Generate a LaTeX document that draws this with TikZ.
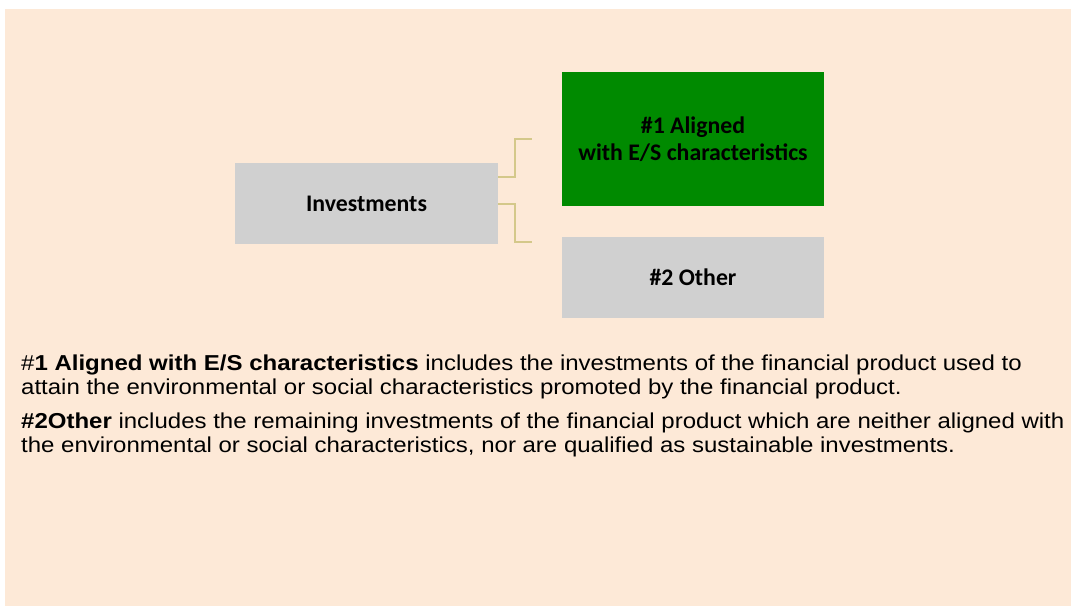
\documentclass[tikz,border=0pt]{standalone}
\usepackage{fontspec}
\setmainfont{Liberation Sans}
\newfontfamily\boxfont{Carlito}
\definecolor{peach}{HTML}{FDE9D7}
\definecolor{boxgray}{HTML}{D0D0D0}
\definecolor{boxgreen}{HTML}{008A00}
\definecolor{connclr}{HTML}{D4C88A}
\newcommand\squash[1]{\scalebox{1}[0.9]{#1}}
\begin{document}
\begin{tikzpicture}[x=1pt,y=-1pt,
  box/.style={draw=none, rectangle, inner sep=0pt, align=center,
    font=\boxfont\bfseries\fontsize{23.8}{27.5}\selectfont, text=black},
  conn/.style={draw=connclr, line width=1.6pt},
  para/.style={anchor=base west, inner sep=0pt, font=\fontsize{24}{24}\selectfont, text=black}]
\useasboundingbox (0,0) rectangle (1071,606);
\fill[peach] (5,9) rectangle (1071,606);
\node[box, fill=boxgray, minimum width=263pt, minimum height=81pt] (inv) at (366.5,203.5) {Investments};
\node[box, fill=boxgreen, minimum width=262pt, minimum height=134pt] (al) at (693,139) {\#1 Aligned\\with E/S characteristics};
\node[box, fill=boxgray, minimum width=262pt, minimum height=81pt] (oth) at (693,277.5) {\#2 Other};
\coordinate (e1) at (532,139);
\coordinate (e2) at (532,242);
\draw[conn] (inv.east |- 0,177) -| (515,158) |- (e1);
\draw[conn] (inv.east |- 0,204) -| (515,223) |- (e2);
\node[para] (p1) at (21,370) {\squash{\#\textbf{1 Aligned with E/S characteristics} includes the investments of the financial product used to}};
\node[para] (p2) at (21,394) {\squash{attain the environmental or social characteristics promoted by the financial product.}};
\node[para] (p3) at (21,428) {\squash{\textbf{\#2Other} includes the remaining investments of the financial product which are neither aligned with}};
\node[para] (p4) at (21,452) {\squash{the environmental or social characteristics, nor are qualified as sustainable investments.}};
\end{tikzpicture}
\end{document}
